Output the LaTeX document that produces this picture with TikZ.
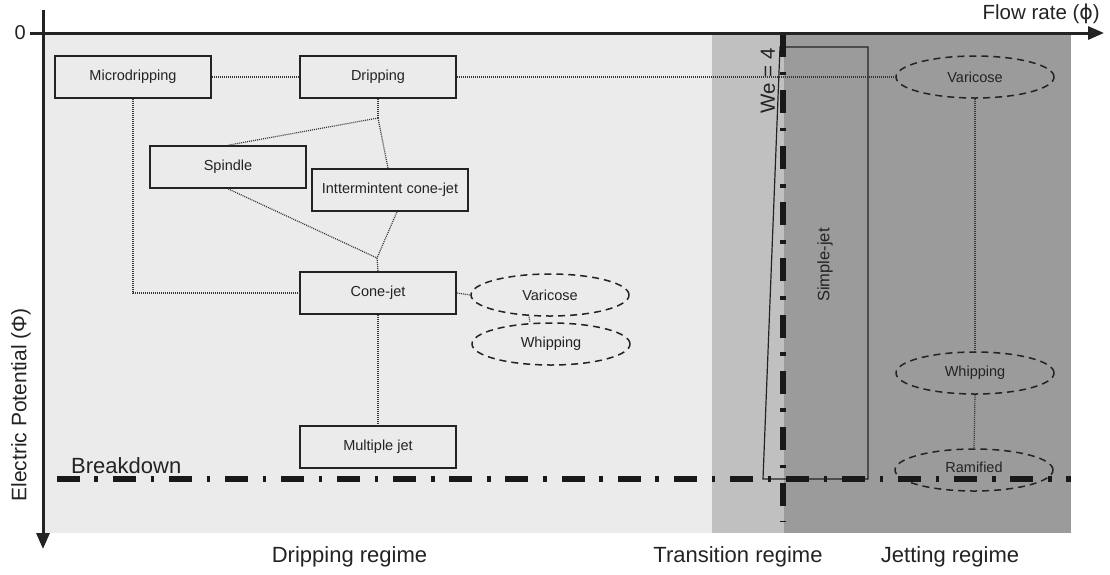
\documentclass[tikz,border=0pt]{standalone}
\usepackage{fontspec}
\setmainfont{Liberation Sans}
\newfontfamily\djv{DejaVu Sans}
\usetikzlibrary{arrows.meta,shapes.geometric}
\definecolor{bglight}{RGB}{235,235,235}
\definecolor{bgmid}{RGB}{192,192,192}
\definecolor{bgdark}{RGB}{155,155,155}
\definecolor{ink}{RGB}{35,35,35}
\definecolor{dotc}{RGB}{55,55,55}
\tikzset{
  box/.style={draw=ink, line width=1.6pt, minimum width=156pt, minimum height=42pt, inner sep=0pt, font=\fontsize{14.5}{16}\selectfont, text=ink},
  oval/.style={ellipse, draw=ink, line width=1.5pt, dash pattern=on 7pt off 5pt, minimum width=158pt, minimum height=42pt, inner sep=0pt, font=\fontsize{14.5}{16}\selectfont, text=ink},
  conn/.style={draw=dotc, line width=1.2pt, dash pattern=on 1pt off 1pt},
  dashdot/.style={draw=black!90, line width=5.5pt, dash pattern=on 23pt off 14.8pt on 3.5pt off 14.8pt},
  lbl/.style={font=\fontsize{22}{24}\selectfont, text=ink, inner sep=0pt},
  axis/.style={draw=ink, line width=3pt, -{Triangle[length=16pt,width=13pt]}}
}
\begin{document}
\begin{tikzpicture}[x=1pt,y=-1pt]
\useasboundingbox (0,0) rectangle (1110,574);
% regime backgrounds
\fill[bglight] (43,33) rectangle (712,533);
\fill[bgmid] (712,33) rectangle (784,533);
\fill[bgdark] (784,33) rectangle (1071,533);
% simple-jet outline
\draw[ink, line width=1.2pt] (763,479) -- (780,47) -- (868,47) -- (868,479) -- cycle;
% nodes
\node[box] (micro) at (133,77) {Microdripping};
\node[box] (drip) at (378,77) {Dripping};
\node[box] (spin) at (228,167) {Spindle};
\node[box] (inter) at (390,190) {Inttermintent cone-jet};
\node[box] (cone) at (378,293) {Cone-jet};
\node[box] (multi) at (378,447) {Multiple jet};
\node[oval] (var1) at (550,295) {Varicose};
\node[oval] (whip1) at (551,344) {Whipping};
\node[oval] (var2) at (975,77) {Varicose};
\node[oval] (whip2) at (975,373) {Whipping};
\node[oval] (ram) at (974,470) {\raisebox{5pt}{Ramified}};
\coordinate (j1) at (378,118);
\coordinate (j2) at (377,258);
% connectors
\draw[conn] (micro.east) -- (drip.west);
\draw[conn] (drip.east) -- (var2.west);
\draw[conn] (micro.south) |- (cone.west);
\draw[conn] (drip.south) -- (j1);
\draw[conn] (j1) -- (spin.north);
\draw[conn] (j1) -- ([xshift=-2pt]inter.north);
\draw[conn] (spin.south) -- (j2);
\draw[conn] ([xshift=7pt]inter.south) -- (j2);
\draw[conn] (j2) -- (cone.north);
\draw[conn] (cone.east) -- (var1.west);
\draw[conn] ([xshift=-21pt]var1.south) -- ([xshift=-21pt]whip1.north);
\draw[conn] (cone.south) -- (multi.north);
\draw[conn] (var2.south) -- (whip2.north);
\draw[conn] (whip2.south) -- (ram.north);
% dash-dot boundaries
\draw[dashdot] (56.6,479) -- (1071,479);
\draw[dashdot] (783,34) -- (783,521);
% axes
\draw[axis] (30,33) -- (1104,33);
\draw[axis] (43,10) -- (43,549);
% labels
\node[lbl, anchor=east, font=\fontsize{20}{22}\selectfont] (zero) at (26,33) {0};
\node[lbl, anchor=base east, font=\fontsize{20.5}{22}\selectfont] (flow) at (1100,19) {Flow rate ({\djv ϕ})};
\node[lbl, rotate=90, font=\fontsize{21}{22}\selectfont] (pot) at (21,405) {Electric Potential (Φ)};
\node[lbl, anchor=base west] (brk) at (71,473) {Breakdown};
\node[lbl, anchor=base] (rdrip) at (349.5,562) {Dripping regime};
\node[lbl, anchor=base] (rtrans) at (738,562) {Transition regime};
\node[lbl, anchor=base] (rjet) at (950,562) {Jetting regime};
\node[lbl, rotate=90, font=\fontsize{20.5}{22}\selectfont] (we) at (768,81) {We = 4};
\node[rotate=90, font=\fontsize{16.5}{18}\selectfont, text=ink] (sj) at (825,265) {Simple-jet};
\end{tikzpicture}
\end{document}
